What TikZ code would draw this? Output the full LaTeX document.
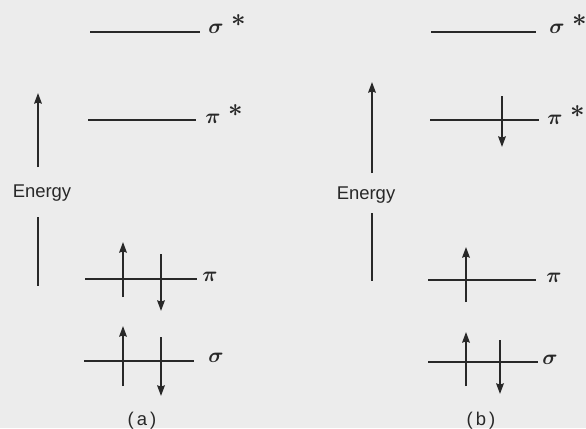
\documentclass[tikz,border=0pt]{standalone}
\usepackage{amsmath}
\usepackage{fontspec}
\setmainfont{Liberation Sans}
\usetikzlibrary{arrows.meta, positioning}
\definecolor{paper}{RGB}{236,236,236}
\definecolor{ink}{RGB}{40,40,40}
\newcommand{\antib}{\hspace{0.15cm}\raisebox{3.5pt}{\Large$\boldsymbol{\ast}$}}

\begin{document}
\begin{tikzpicture}[
    level/.style={ink, line width=1.1pt},
    arrow/.style={ink, line width=1.1pt, -{Stealth[length=2.1mm, width=1.5mm, inset=0.2mm]}},
    orb/.style={anchor=base west, inner sep=0pt, font=\large, text=ink},
    lbl/.style={font=\fontsize{10.5}{12}\selectfont, text=ink}
]
\fill[paper] (0,0) rectangle (11.72,8.56);
\useasboundingbox (0,0) rectangle (11.72,8.56);

% (a) ground state
\draw[level] (1.80,7.92) -- (4.00,7.92);
\node[orb] (ssA) at (4.16,7.90) {$\boldsymbol{\sigma}$\antib};
\draw[level] (1.76,6.16) -- (3.92,6.16);
\node[orb] (psA) at (4.10,6.10) {$\boldsymbol{\pi}$\antib};
\draw[level] (1.70,2.98) -- (3.94,2.98);
\node[orb] (pA) at (4.04,2.94) {$\boldsymbol{\pi}$};
\draw[arrow] (2.46,2.62) -- (2.46,3.72);
\draw[arrow] (3.22,3.48) -- (3.22,2.34);
\draw[level] (1.68,1.34) -- (3.88,1.34);
\node[orb] (sA) at (4.16,1.32) {$\boldsymbol{\sigma}$};
\draw[arrow] (2.46,0.84) -- (2.46,2.04);
\draw[arrow] (3.22,1.82) -- (3.22,0.64);

\node[lbl] (enA) at (0.84,4.70) {Energy};
\coordinate (axA1) at (0.76,5.22);
\coordinate (axA2) at (0.76,6.70);
\coordinate (axA3) at (0.76,4.22);
\coordinate (axA4) at (0.76,2.84);
\draw[arrow] (axA1) -- (axA2);
\draw[level] (axA3) -- (axA4);
\node[lbl] (capA) at (2.84,0.15) {(\,a\,)};

% (b) excited state
\draw[level] (8.62,7.92) -- (10.72,7.92);
\node[orb] (ssB) at (10.98,7.90) {$\boldsymbol{\sigma}$\antib};
\draw[level] (8.60,6.16) -- (10.78,6.16);
\node[orb] (psB) at (10.94,6.08) {$\boldsymbol{\pi}$\antib};
\draw[arrow] (10.04,6.64) -- (10.04,5.62);
\draw[level] (8.56,2.96) -- (10.72,2.96);
\node[orb] (pB) at (10.92,2.92) {$\boldsymbol{\pi}$};
\draw[arrow] (9.32,2.52) -- (9.32,3.62);
\draw[level] (8.56,1.32) -- (10.76,1.32);
\node[orb] (sB) at (10.84,1.28) {$\boldsymbol{\sigma}$};
\draw[arrow] (9.32,0.84) -- (9.32,1.92);
\draw[arrow] (10.00,1.76) -- (10.00,0.68);

\node[lbl] (enB) at (7.32,4.66) {Energy};
\coordinate (axB1) at (7.44,5.10);
\coordinate (axB2) at (7.44,6.92);
\coordinate (axB3) at (7.44,4.30);
\coordinate (axB4) at (7.44,2.94);
\draw[arrow] (axB1) -- (axB2);
\draw[level] (axB3) -- (axB4);
\node[lbl] (capB) at (9.62,0.15) {(\,b\,)};

\end{tikzpicture}
\end{document}
